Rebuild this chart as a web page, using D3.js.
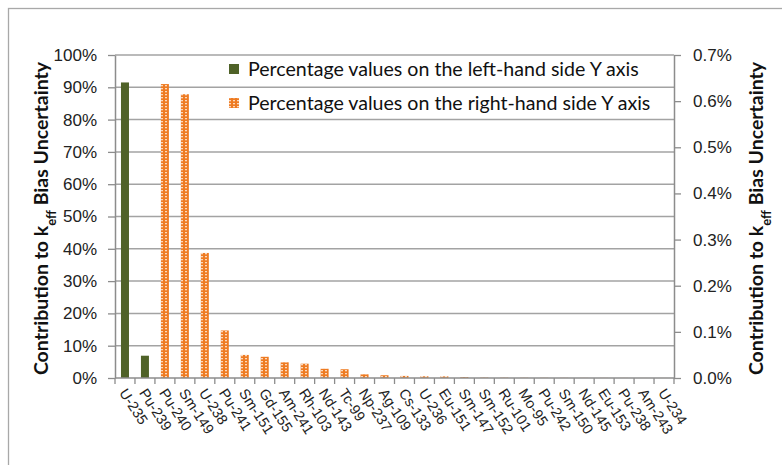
<!DOCTYPE html>
<html><head><meta charset="utf-8">
<script src="https://cdn.jsdelivr.net/npm/d3@7"></script>
<style>body{margin:0;background:#fff}</style>
</head><body><svg id="c" width="782" height="465"></svg>
<script>
const categories = ["U-235","Pu-239","Pu-240","Sm-149","U-238","Pu-241","Sm-151","Gd-155","Am-241","Rh-103","Nd-143","Tc-99","Np-237","Ag-109","Cs-133","U-236","Eu-151","Sm-147","Sm-152","Ru-101","Mo-95","Pu-242","Sm-150","Nd-145","Eu-153","Pu-238","Am-243","U-234"];
// percentage values on the left-hand side Y axis
const leftValues = [91.5, 6.9, null, null, null, null, null, null, null, null, null, null, null, null, null, null, null, null, null, null, null, null, null, null, null, null, null, null];
// percentage values on the right-hand side Y axis
const rightValues = [null, null, 0.637, 0.615, 0.271, 0.103, 0.050, 0.046, 0.034, 0.031, 0.020, 0.019, 0.008, 0.006, 0.0045, 0.0037, 0.0035, 0.002, 0.001, 0.0008, 0.0006, 0.0005, 0.0004, 0.0003, 0.0003, 0.0002, 0.0001, 0.0001];
const leftTicks = [0,10,20,30,40,50,60,70,80,90,100];
const rightTicks = [0,0.1,0.2,0.3,0.4,0.5,0.6,0.7];
const legendLabels = ["Percentage values on the left-hand side Y axis","Percentage values on the right-hand side Y axis"];
const titleParts = ["Contribution to k","eff"," Bias Uncertainty"];

const GREEN = "#4f6228", ORANGE = "#ee7b22", LIGHT = "#fcd9bd", GRID = "#a3a3a3", AXIS = "#8c8c8c";
const svg = d3.select("#c");
const P = {l:115, r:674, t:55, b:378};

// border
svg.append("rect").attr("x",8.5).attr("y",8.5).attr("width",900).attr("height",900)
  .attr("fill","none").attr("stroke","#a8a8a8").attr("stroke-width",1.3);

// pattern
const defs = svg.append("defs");
const pat = defs.append("pattern").attr("id","grid").attr("patternUnits","userSpaceOnUse")
  .attr("width",4).attr("height",3);
pat.append("rect").attr("width",4).attr("height",3).attr("fill",ORANGE);
pat.append("rect").attr("x",1).attr("y",1).attr("width",2).attr("height",1.3).attr("fill",LIGHT);

const x = d3.scaleBand().domain(categories).range([P.l, P.r]);
const yL = d3.scaleLinear().domain([0,100]).range([P.b, P.t]);
const yR = d3.scaleLinear().domain([0,0.7]).range([P.b, P.t]);
const bw = 8;

// gridlines
svg.append("g").selectAll("line").data(leftTicks.filter(d=>d>0)).join("line")
  .attr("x1",P.l).attr("x2",P.r).attr("y1",d=>yL(d)).attr("y2",d=>yL(d))
  .attr("stroke",GRID).attr("stroke-width",1.5);

// bars
svg.append("g").selectAll("rect").data(categories.map((c,i)=>({c,v:rightValues[i]})).filter(d=>d.v!=null)).join("rect")
  .attr("x",d=>x(d.c)+x.bandwidth()/2-bw/2).attr("width",bw)
  .attr("y",d=>yR(d.v)).attr("height",d=>P.b-yR(d.v))
  .attr("fill","url(#grid)");
svg.append("g").selectAll("rect").data(categories.map((c,i)=>({c,v:leftValues[i]})).filter(d=>d.v!=null)).join("rect")
  .attr("x",d=>x(d.c)+x.bandwidth()/2-bw/2).attr("width",bw)
  .attr("y",d=>yL(d.v)).attr("height",d=>P.b-yL(d.v))
  .attr("fill",GREEN);

// left axis
const gl = svg.append("g").attr("transform",`translate(${P.l},0)`)
  .call(d3.axisLeft(yL).tickValues(leftTicks).tickFormat(d=>d+"%").tickSize(7).tickPadding(11).tickSizeOuter(0));
// right axis
const gr = svg.append("g").attr("transform",`translate(${P.r},0)`)
  .call(d3.axisRight(yR).tickValues(rightTicks).tickFormat(d=>d.toFixed(1)+"%").tickSize(7).tickPadding(12).tickSizeOuter(0));
[gl,gr].forEach(g=>{
  g.attr("font-family",null).attr("font-size",null);
  g.select(".domain").attr("stroke",AXIS).attr("stroke-width",1.5);
  g.selectAll(".tick line").attr("stroke",AXIS).attr("stroke-width",1.3);
  g.selectAll(".tick text").style("font-family","'Liberation Sans', Arial, sans-serif").style("font-size","17px").attr("fill","#222");
});

// x axis
const gx = svg.append("g");
gx.append("line").attr("x1",P.l).attr("x2",P.r).attr("y1",P.b).attr("y2",P.b).attr("stroke",AXIS).attr("stroke-width",1.5);
gx.selectAll("line.tk").data(categories.map(c=>x(c)).concat([x.range()[1]])).join("line").attr("class","tk")
  .attr("x1",d=>d).attr("x2",d=>d).attr("y1",P.b).attr("y2",P.b+6).attr("stroke",AXIS).attr("stroke-width",1.3);
gx.selectAll("text").data(categories).join("text")
  .attr("transform",d=>`translate(${x(d)+x.bandwidth()/2-2},${P.b+12}) rotate(57)`)
  .attr("dy","0.35em").attr("text-anchor","start")
  .style("font-family","'Liberation Sans', Arial, sans-serif").style("font-size","14.5px").attr("fill","#222")
  .text(d=>d);

// axis titles
function title(cx){
  const t = svg.append("text").attr("transform",`translate(${cx},${(P.t+P.b)/2+2}) rotate(-90)`)
    .attr("text-anchor","middle").attr("dy","0.35em")
    .style("font-family","Lato, 'Open Sans', sans-serif").attr("font-weight","bold").style("font-size","19.5px").attr("fill","#111");
  t.append("tspan").text(titleParts[0]);
  t.append("tspan").attr("baseline-shift","sub").style("font-size","13px").text(titleParts[1]);
  t.append("tspan").text(titleParts[2]);
}
title(41);
title(756);

// legend
const lg = svg.append("g");
[0,1].forEach(i=>{
  const yy = 69 + i*34;
  lg.append("rect").attr("x",229).attr("y",yy-5).attr("width",10).attr("height",10).attr("fill",i===0?GREEN:"url(#grid)");
  lg.append("text").attr("x",248).attr("y",yy).attr("dy","0.35em")
    .style("font-family","Lato, 'Open Sans', sans-serif").style("font-size","19.6px").attr("fill","#111")
    .text(legendLabels[i]);
});
</script></body></html>
